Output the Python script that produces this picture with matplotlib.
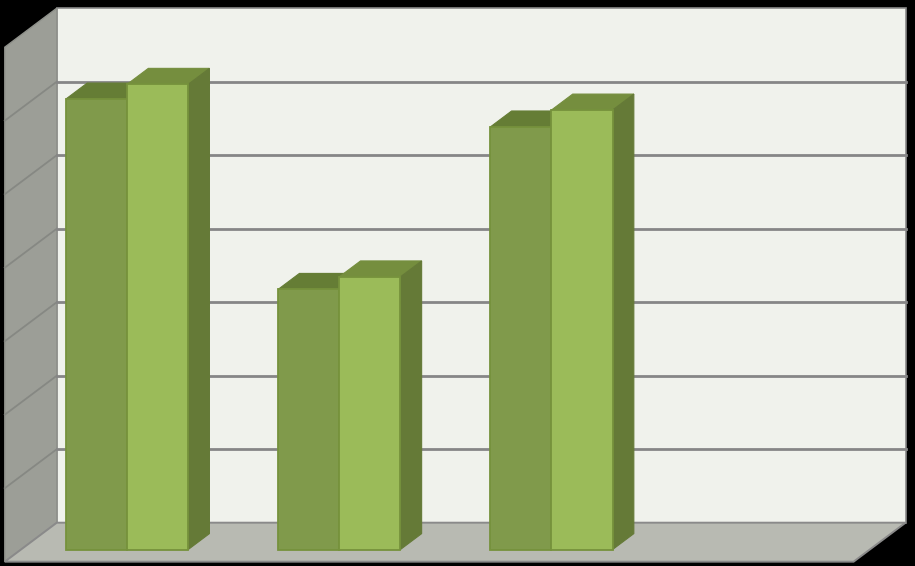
"""
3D style clustered bars on a black slide background
"""

import matplotlib

matplotlib.use("Agg")
from matplotlib.patches import Polygon
import matplotlib.pyplot as plt
import numpy as np

categories = [0, 1, 2, 3]
series_a = [6.13, 3.54, 5.75]
series_b = [6.33, 3.71, 5.98]
grid_values = [1, 2, 3, 4, 5, 6]
value_max = 7

PX_CAT = 212.2
PX_VAL = 73.5
DEPTH_X = 52.0
DEPTH_Y = 39.0
WALL_FRONT = -0.31
WALL_BACK = 0.69
BAR_DEPTH = 0.41
BAR_WIDTH = 0.288


def project(x, value, depth):
    """
    Shift a data point backwards along the oblique depth axis
    """
    return (x + depth * DEPTH_X / PX_CAT, value + depth * DEPTH_Y / PX_VAL)


def face(ax, points, color, edge=None, lw=0.0, zorder=1):
    """
    Add a filled polygon given (x, value, depth) corners
    """
    xy = [project(*p) for p in points]
    ax.add_patch(
        Polygon(xy, closed=True, facecolor=color, edgecolor=edge or color, linewidth=lw, zorder=zorder)
    )


def draw_bars(ax, x, values, front, top, side, edge, zorder):
    """
    Draw one series: front faces through ax.bar, then the tops and sides
    """
    x = np.asarray(x, dtype=float)
    for left, val in zip(x, values):
        right = left + BAR_WIDTH
        face(ax, [(left, val, 0), (right, val, 0), (right, val, BAR_DEPTH), (left, val, BAR_DEPTH)],
             top, top, 0.8, zorder)
        face(ax, [(right, 0, 0), (right, val, 0), (right, val, BAR_DEPTH), (right, 0, BAR_DEPTH)],
             side, side, 0.8, zorder)
    ax.bar(x, values, width=BAR_WIDTH, align="edge", color=front, edgecolor=edge, linewidth=1.3, zorder=zorder + 0.1)


fig = plt.figure(figsize=(9.15, 5.66), dpi=100, facecolor="black")
ax = fig.add_axes([0, 0, 1, 1])
ax.set_facecolor("black")
ax.set_xlim(-127 / PX_CAT, (915 - 127) / PX_CAT)
ax.set_ylim(-16.4 / PX_VAL, 549.6 / PX_VAL)
ax.axis("off")

x_min = categories[0] - 0.5
x_max = categories[-1] + 0.5

# walls and floor
face(ax, [(x_min, 0, WALL_BACK), (x_max, 0, WALL_BACK), (x_max, value_max, WALL_BACK), (x_min, value_max, WALL_BACK)],
     "#f0f2ec", "#8a8a8a", 1.2)
face(ax, [(x_min, 0, WALL_FRONT), (x_min, 0, WALL_BACK), (x_min, value_max, WALL_BACK), (x_min, value_max, WALL_FRONT)],
     "#9c9e97", "#8f918b", 1.0)
face(ax, [(x_min, 0, WALL_FRONT), (x_max, 0, WALL_FRONT), (x_max, 0, WALL_BACK), (x_min, 0, WALL_BACK)],
     "#b8bab2", "#8a8a8a", 1.4, zorder=1.2)

# gridlines run along the side wall and across the back wall
for val in grid_values:
    side_pts = [project(x_min, val, WALL_FRONT), project(x_min, val, WALL_BACK)]
    back_pts = [project(x_min, val, WALL_BACK), project(x_max, val, WALL_BACK)]
    ax.plot([p[0] for p in side_pts], [p[1] for p in side_pts], color="#868883", linewidth=1.3, zorder=1.5)
    ax.plot([p[0] for p in back_pts], [p[1] for p in back_pts], color="#868686", linewidth=2, zorder=1.5)

bar_pos = np.arange(len(series_a))
draw_bars(ax, bar_pos - BAR_WIDTH, series_a, "#809a4b", "#657d35", "#657d35", "#76923c", 2)
draw_bars(ax, bar_pos, series_b, "#9bbb59", "#758e3e", "#657a37", "#76923c", 3)

fig.savefig("out.png", dpi=100, facecolor="black")
